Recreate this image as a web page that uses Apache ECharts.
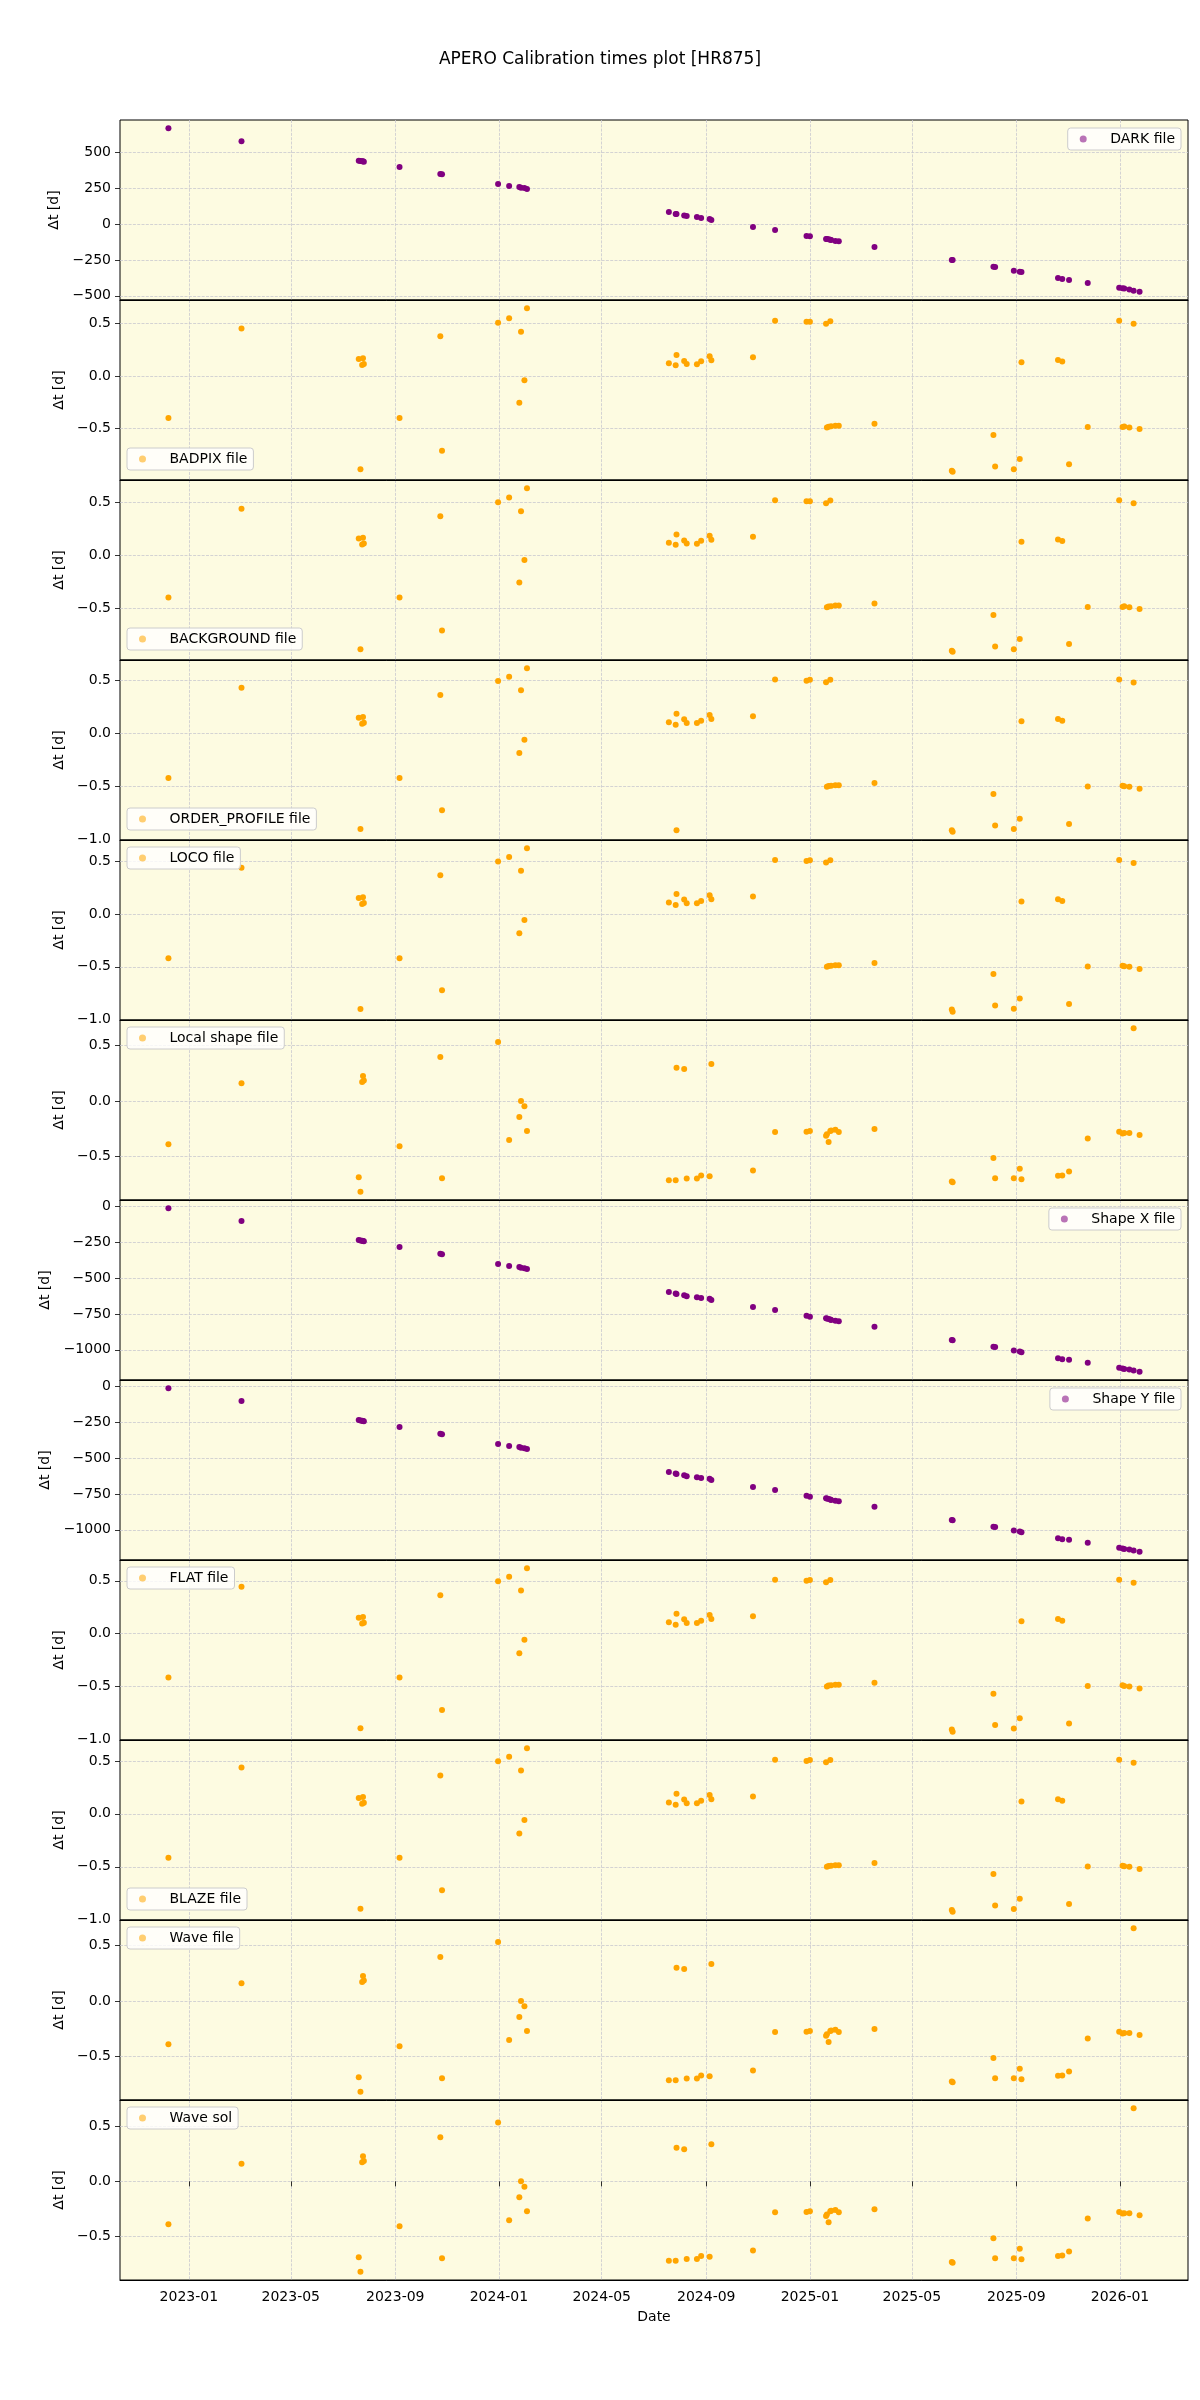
<!DOCTYPE html>
<html><head><meta charset="utf-8">
<script src="https://cdn.jsdelivr.net/npm/echarts@6/dist/echarts.min.js"></script>
<style>html,body{margin:0;padding:0;background:#fff}#c{width:1200px;height:2400px}</style>
</head><body><div id="c"></div>
<script>
// ---------------- DATA ----------------
const dates = ['2022-12-08','2023-03-04','2023-07-20','2023-07-22','2023-07-24','2023-07-25','2023-07-26','2023-09-06',
 '2023-10-24','2023-10-26','2023-12-31','2024-01-13','2024-01-25','2024-01-27','2024-01-31','2024-02-03',
 '2024-07-19','2024-07-27','2024-07-28','2024-08-06','2024-08-09','2024-08-21','2024-08-26','2024-09-05','2024-09-07',
 '2024-10-26','2024-11-21','2024-12-28','2025-01-01','2025-01-20','2025-01-21','2025-01-23','2025-01-25','2025-01-26',
 '2025-01-31','2025-02-04','2025-03-18','2025-06-17','2025-06-18','2025-08-05','2025-08-07','2025-08-29','2025-09-05',
 '2025-09-07','2025-10-20','2025-10-25','2025-11-02','2025-11-24','2025-12-31','2026-01-04','2026-01-06','2026-01-12',
 '2026-01-17','2026-01-24'];

const darkVals = [667,576,441,439,437,436,434,396,348,346,278,264,257,253,250,243,
 83,70,69,60,56,49,42,35,28,-21,-42,-83,-85,-104,-105,-106,-109,-111,-118,-120,-160,-250,-251,
 -298,-300,-326,-332,-334,-375,-382,-389,-410,-444,-447,-449,-456,-465,-472];

const badpixVals = [-0.400,0.451,0.162,-0.886,0.105,0.168,0.114,-0.400,0.378,-0.711,0.505,0.549,-0.254,0.419,-0.041,0.644,
 0.121,0.102,0.200,0.143,0.114,0.111,0.140,0.187,0.149,0.178,0.524,0.514,0.514,0.495,-0.490,-0.482,0.521,-0.479,
 -0.473,-0.473,-0.454,-0.902,-0.911,-0.562,-0.860,-0.886,-0.790,0.130,0.152,0.137,-0.838,-0.486,0.524,-0.486,-0.480,
 -0.489,0.495,-0.505];

const backgroundVals = [-0.400,0.442,0.160,-0.888,0.103,0.166,0.112,-0.400,0.371,-0.712,0.503,0.547,-0.258,0.417,-0.044,0.636,
 0.119,0.100,0.198,0.141,0.112,0.109,0.138,0.185,0.147,0.176,0.522,0.512,0.512,0.493,-0.490,-0.484,0.519,-0.481,
 -0.475,-0.475,-0.456,-0.904,-0.913,-0.564,-0.862,-0.888,-0.792,0.128,0.150,0.135,-0.840,-0.488,0.522,-0.488,-0.482,
 -0.491,0.493,-0.507];

const orderProfileVals = [-0.417,0.433,0.150,-0.898,0.095,0.158,0.104,-0.417,0.364,-0.722,0.497,0.538,-0.182,0.409,-0.057,0.618,
 0.107,0.085,0.189,0.136,0.101,0.101,0.123,0.177,0.139,0.164,0.511,0.500,0.508,0.486,-0.500,-0.492,0.508,-0.490,
 -0.485,-0.485,-0.465,-0.910,-0.925,-0.569,-0.866,-0.898,-0.801,0.117,0.139,0.123,-0.851,-0.497,0.511,-0.490,-0.495,
 -0.500,0.483,-0.520];
const orderProfileExtraDates = ['2024-07-28'];
const orderProfileExtraVals = [-0.910];

const locoVals = [-0.419,0.436,0.150,-0.899,0.095,0.158,0.104,-0.419,0.365,-0.723,0.497,0.538,-0.182,0.409,-0.057,0.622,
 0.107,0.085,0.189,0.136,0.101,0.101,0.123,0.177,0.139,0.164,0.511,0.500,0.508,0.486,-0.500,-0.492,0.508,-0.490,
 -0.485,-0.485,-0.465,-0.905,-0.926,-0.569,-0.866,-0.898,-0.801,0.117,0.139,0.123,-0.851,-0.497,0.511,-0.490,-0.495,
 -0.500,0.483,-0.520];

const localShapeVals = [-0.389,0.160,-0.687,-0.819,0.172,0.226,0.184,-0.407,0.398,-0.696,0.533,-0.352,-0.145,0.000,-0.048,-0.271,
 -0.714,-0.714,0.301,0.289,-0.699,-0.699,-0.672,-0.678,0.334,-0.627,-0.280,-0.277,-0.271,-0.313,-0.300,-0.370,-0.271,
 -0.266,-0.259,-0.280,-0.253,-0.726,-0.732,-0.515,-0.696,-0.696,-0.611,-0.705,-0.675,-0.672,-0.636,-0.337,-0.277,
 -0.292,-0.289,-0.289,0.657,-0.307];

const shapeXVals = [-14,-104,-236,-239,-241,-243,-245,-285,-332,-334,-403,-417,-424,-428,-432,-437,
 -597,-608,-611,-620,-627,-634,-639,-644,-653,-701,-722,-762,-769,-780,-782,-785,-789,-793,-797,-801,-840,
 -931,-933,-979,-981,-1005,-1012,-1016,-1058,-1065,-1069,-1090,-1125,-1130,-1133,-1137,-1144,-1153];

const shapeYVals = [-14,-104,-236,-239,-241,-243,-245,-285,-332,-334,-403,-417,-424,-428,-432,-437,
 -597,-608,-611,-620,-627,-634,-639,-644,-653,-701,-722,-762,-769,-780,-782,-785,-789,-793,-797,-801,-840,
 -931,-933,-979,-981,-1005,-1012,-1016,-1058,-1065,-1069,-1090,-1125,-1130,-1133,-1137,-1144,-1153];

const flatVals = [-0.415,0.443,0.150,-0.897,0.095,0.158,0.104,-0.415,0.364,-0.724,0.497,0.538,-0.186,0.409,-0.057,0.620,
 0.107,0.085,0.189,0.136,0.101,0.101,0.123,0.177,0.139,0.164,0.511,0.500,0.508,0.486,-0.500,-0.492,0.508,-0.490,
 -0.485,-0.485,-0.465,-0.907,-0.930,-0.569,-0.866,-0.899,-0.801,0.117,0.139,0.123,-0.851,-0.497,0.511,-0.490,-0.495,
 -0.500,0.483,-0.520];

const blazeVals = [-0.415,0.437,0.150,-0.897,0.095,0.158,0.104,-0.415,0.362,-0.722,0.497,0.538,-0.186,0.409,-0.057,0.620,
 0.107,0.085,0.189,0.136,0.101,0.101,0.123,0.177,0.139,0.164,0.511,0.500,0.508,0.486,-0.500,-0.492,0.508,-0.490,
 -0.485,-0.485,-0.465,-0.907,-0.925,-0.569,-0.866,-0.899,-0.801,0.117,0.139,0.123,-0.851,-0.497,0.511,-0.490,-0.495,
 -0.500,0.483,-0.520];

const waveFileVals = [-0.389,0.160,-0.687,-0.819,0.172,0.226,0.184,-0.407,0.398,-0.696,0.533,-0.352,-0.145,0.000,-0.048,-0.271,
 -0.714,-0.714,0.301,0.289,-0.699,-0.699,-0.672,-0.678,0.334,-0.627,-0.280,-0.277,-0.271,-0.313,-0.300,-0.370,-0.271,
 -0.266,-0.259,-0.280,-0.253,-0.726,-0.732,-0.515,-0.696,-0.696,-0.611,-0.705,-0.675,-0.672,-0.636,-0.337,-0.277,
 -0.292,-0.289,-0.289,0.657,-0.307];

const waveSolVals = [-0.389,0.160,-0.687,-0.819,0.172,0.226,0.184,-0.407,0.398,-0.696,0.533,-0.352,-0.145,0.000,-0.048,-0.271,
 -0.718,-0.718,0.303,0.291,-0.703,-0.703,-0.676,-0.682,0.336,-0.627,-0.280,-0.277,-0.271,-0.313,-0.300,-0.370,-0.271,
 -0.266,-0.259,-0.280,-0.253,-0.730,-0.736,-0.515,-0.696,-0.696,-0.611,-0.705,-0.675,-0.672,-0.636,-0.337,-0.277,
 -0.292,-0.289,-0.289,0.662,-0.307];

const xTickLabels = ['2023-01','2023-05','2023-09','2024-01','2024-05','2024-09','2025-01','2025-05','2025-09','2026-01'];
const yTicksBig = [-500,-250,0,250,500];
const yTicksSmall = [-1.0,-0.5,0.0,0.5];
const yTicksShape = [-1000,-750,-500,-250,0];
const xRange = ['2022-10-12','2026-03-22'];

// ---------------- BUILD ----------------
const FONT = 'DejaVu Sans';
const PURPLE = '#800080', ORANGE = '#FFA500';
const toMs = s => Date.parse(s + 'T00:00:00Z');
const xMin = toMs(xRange[0]), xMax = toMs(xRange[1]);
const xTicks = xTickLabels.map(s => toMs(s + '-01'));

const panels = [
  {name:'DARK file', vals:darkVals, color:PURPLE, ticks:yTicksBig, dec:0, leg:'ur'},
  {name:'BADPIX file', vals:badpixVals, color:ORANGE, ticks:yTicksSmall, dec:1, leg:'ll'},
  {name:'BACKGROUND file', vals:backgroundVals, color:ORANGE, ticks:yTicksSmall, dec:1, leg:'ll'},
  {name:'ORDER_PROFILE file', vals:orderProfileVals, color:ORANGE, ticks:yTicksSmall, dec:1, leg:'ll',
    extraD:orderProfileExtraDates, extraV:orderProfileExtraVals},
  {name:'LOCO file', vals:locoVals, color:ORANGE, ticks:yTicksSmall, dec:1, leg:'ul'},
  {name:'Local shape file', vals:localShapeVals, color:ORANGE, ticks:yTicksSmall, dec:1, leg:'ul'},
  {name:'Shape X file', vals:shapeXVals, color:PURPLE, ticks:yTicksShape, dec:0, leg:'ur'},
  {name:'Shape Y file', vals:shapeYVals, color:PURPLE, ticks:yTicksShape, dec:0, leg:'ur'},
  {name:'FLAT file', vals:flatVals, color:ORANGE, ticks:yTicksSmall, dec:1, leg:'ul'},
  {name:'BLAZE file', vals:blazeVals, color:ORANGE, ticks:yTicksSmall, dec:1, leg:'ll'},
  {name:'Wave file', vals:waveFileVals, color:ORANGE, ticks:yTicksSmall, dec:1, leg:'ul'},
  {name:'Wave sol', vals:waveSolVals, color:ORANGE, ticks:yTicksSmall, dec:1, leg:'ul'}
];

const TOP = 120, PH = 180, LEFT = 120, PW = 1068;
const gridLine = {show:true, lineStyle:{color:'#c9c9cf', type:[3,1.3], width:0.8}};
const fmtNum = (v, dec) => (v < 0 ? '\u2212' : '') + Math.abs(v).toFixed(dec);
const fmtDate = v => { const d = new Date(v); return d.getUTCFullYear() + '-' + String(d.getUTCMonth()+1).padStart(2,'0'); };
const lightOf = c => c === PURPLE ? 'rgba(128,0,128,0.55)' : 'rgba(255,165,0,0.55)';

const grids = [], xAxes = [], borderAxes = [], yAxes = [], series = [], legends = [];
panels.forEach((p, i) => {
  const last = i === panels.length - 1;
  const top = TOP + PH * i;
  grids.push({left:LEFT, top:top, width:PW, height:PH, show:true, backgroundColor:'#fdfbe1',
    borderColor:'#000', borderWidth:1});
  let allV = p.vals.slice();
  if (p.extraV) allV = allV.concat(p.extraV);
  const vmin = Math.min(...allV), vmax = Math.max(...allV), span = vmax - vmin;
  const lo = vmin - 0.05 * span, hi = vmax + 0.05 * span;
  const edge = 0.01 * span;
  const innerTicks = p.ticks.filter(v => v > lo + edge && v < hi - edge);
  xAxes.push({type:'value', gridIndex:i, min:xMin, max:xMax,
    axisLine:{show:false},
    axisTick:{show:last, customValues:xTicks, length:5, lineStyle:{color:'#000', width:0.8}},
    axisLabel:{show:last, customValues:xTicks, formatter:fmtDate, fontSize:14, color:'#000', fontFamily:FONT, margin:10},
    splitLine:gridLine,
    name: last ? 'Date' : '', nameLocation:'middle', nameGap:30,
    nameTextStyle:{fontSize:14, color:'#000', fontFamily:FONT}});
  borderAxes.push({type:'value', gridIndex:i, min:xMin, max:xMax, position:'bottom', z:5,
    axisLine:{show:true, lineStyle:{color:'#000', width:1}},
    axisTick:{show:false}, axisLabel:{show:false}, splitLine:{show:false}});
  yAxes.push({type:'value', gridIndex:i, min:lo, max:hi,
    axisLine:{show:false},
    axisTick:{show:true, customValues:innerTicks, length:5, lineStyle:{color:'#000', width:0.8}},
    axisLabel:{customValues:p.ticks, formatter:v => fmtNum(v, p.dec), fontSize:14, color:'#000', fontFamily:FONT, margin:9},
    splitLine:gridLine,
    name:'\u0394t [d]', nameLocation:'middle', nameGap:51, nameRotate:90,
    nameTextStyle:{fontSize:14, color:'#000', fontFamily:FONT}});
  const data = dates.map((d, j) => [toMs(d), p.vals[j]]);
  if (p.extraD) p.extraD.forEach((d, j) => data.push([toMs(d), p.extraV[j]]));
  series.push({type:'scatter', name:p.name, xAxisIndex:i, yAxisIndex:i, data:data,
    symbol:'circle', symbolSize:6, itemStyle:{color:p.color, opacity:1}, silent:true});
  const leg = {data:[{name:p.name, itemStyle:{color:lightOf(p.color)}}], icon:'circle', itemWidth:30, itemHeight:7,
    padding:[4,6,4,12], backgroundColor:'rgba(255,255,255,0.8)', borderColor:'#cccccc', borderWidth:1, borderRadius:3,
    selectedMode:false, textStyle:{fontSize:14, fontFamily:FONT, color:'#000', padding:[0,0,0,7]}};
  if (p.leg === 'ur') { leg.right = 19; leg.top = top + 8; }
  else if (p.leg === 'ul') { leg.left = 127; leg.top = top + 7; }
  else { leg.left = 127; leg.top = top + PH - 7 - 25; }
  legends.push(leg);
});

const chart = echarts.init(document.getElementById('c'), null, {renderer:'canvas'});
chart.setOption({
  animation:false,
  backgroundColor:'#ffffff',
  title:{text:'APERO Calibration times plot [HR875]', left:'center', top:46,
    textStyle:{fontSize:17, fontWeight:'normal', fontFamily:FONT, color:'#000'}},
  legend:legends, grid:grids, xAxis:xAxes.concat(borderAxes), yAxis:yAxes, series:series
});
</script></body></html>
